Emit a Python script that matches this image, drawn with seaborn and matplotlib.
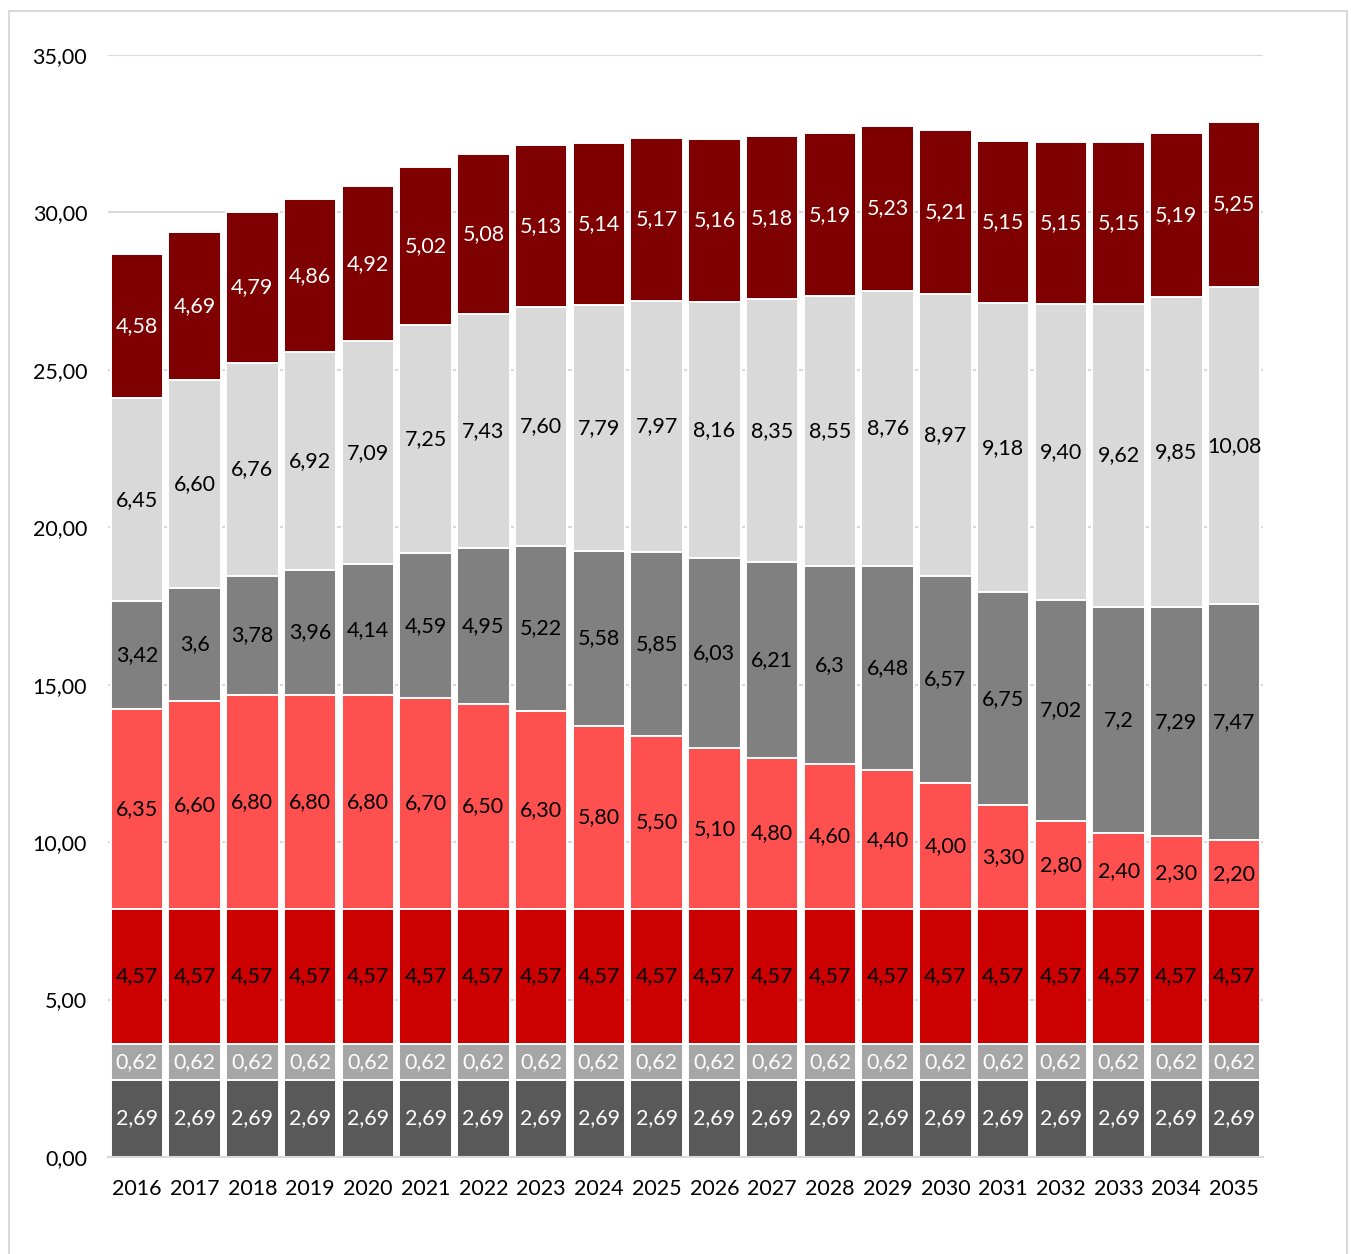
import matplotlib
matplotlib.use("Agg")
import matplotlib.pyplot as plt
from matplotlib.patches import Rectangle
import pandas as pd
import seaborn as sns

sns.set_theme(style="white")
plt.rcParams["font.family"] = ["Lato", "DejaVu Sans"]

years = [str(y) for y in range(2016, 2036)]

# bottom three segments: drawn heights and their printed labels
base_dark = [2.45] * 20
base_dark_lbl = ["2,69"] * 20
base_light = [1.14] * 20
base_light_lbl = ["0,62"] * 20
base_red = [4.29] * 20
base_red_lbl = ["4,57"] * 20

pink = [6.35, 6.60, 6.80, 6.80, 6.80, 6.70, 6.50, 6.30, 5.80, 5.50,
        5.10, 4.80, 4.60, 4.40, 4.00, 3.30, 2.80, 2.40, 2.30, 2.20]
gray = [3.42, 3.6, 3.78, 3.96, 4.14, 4.59, 4.95, 5.22, 5.58, 5.85,
        6.03, 6.21, 6.3, 6.48, 6.57, 6.75, 7.02, 7.2, 7.29, 7.47]
light = [6.45, 6.60, 6.76, 6.92, 7.09, 7.25, 7.43, 7.60, 7.79, 7.97,
         8.16, 8.35, 8.55, 8.76, 8.97, 9.18, 9.40, 9.62, 9.85, 10.08]
darkred = [4.58, 4.69, 4.79, 4.86, 4.92, 5.02, 5.08, 5.13, 5.14, 5.17,
           5.16, 5.18, 5.19, 5.23, 5.21, 5.15, 5.15, 5.15, 5.19, 5.25]


def fmt2(v):
    return f"{v:.2f}".replace(".", ",")


layers = [
    ("dark", base_dark, base_dark_lbl, "#595959", "white"),
    ("light", base_light, base_light_lbl, "#A6A6A6", "white"),
    ("red", base_red, base_red_lbl, "#CC0000", "black"),
    ("pink", pink, [fmt2(v) for v in pink], "#FF5050", "black"),
    ("gray", gray, [str(v).replace(".", ",") for v in gray], "#808080", "black"),
    ("lightgray", light, [fmt2(v) for v in light], "#D9D9D9", "black"),
    ("darkred", darkred, [fmt2(v) for v in darkred], "#7F0000", "white"),
]

df = pd.DataFrame({"year": years})
prev = [0.0] * 20
for name, vals, _, _, _ in layers:
    df[name + "_bot"] = prev
    prev = [p + v for p, v in zip(prev, vals)]
    df[name + "_top"] = prev

fig = plt.figure(figsize=(13.51, 12.54), dpi=100)
ax = fig.add_axes([108 / 1351, 97 / 1254, 1155 / 1351, 1102 / 1254])

# stacked bars: draw the cumulative totals from the top layer down
for name, vals, labels, color, tcolor in reversed(layers):
    sns.barplot(data=df, x="year", y=name + "_top", color=color, saturation=1,
                width=0.91, edgecolor="white", linewidth=1.4, ax=ax, zorder=2)

for name, vals, labels, color, tcolor in layers:
    for i, (b, v, lab) in enumerate(zip(df[name + "_bot"], vals, labels)):
        ax.text(i, b + v / 2, lab, ha="center", va="center", color=tcolor,
                fontsize=15.5, zorder=5)

ax.set_xlim(-0.5, 19.5)
ax.set_ylim(0, 35)
ax.set_yticks(range(0, 36, 5))
ax.set_yticklabels([f"{t:.2f}".replace(".", ",") for t in range(0, 36, 5)])
ax.yaxis.grid(True, color="#D9D9D9", linewidth=1.5, zorder=0)
ax.set_axisbelow(True)
ax.set_xlabel("")
ax.set_ylabel("")
for s in ["top", "right", "left"]:
    ax.spines[s].set_visible(False)
ax.spines["bottom"].set_color("#D9D9D9")
ax.spines["bottom"].set_linewidth(1.5)
ax.tick_params(axis="both", length=0, labelsize=15.5, colors="black")
ax.tick_params(axis="y", pad=15)
ax.tick_params(axis="x", pad=16)

fig.patches.append(Rectangle((9 / 1351, -0.01), 1338 / 1351, 1.0 - 11 / 1254 + 0.01,
                             transform=fig.transFigure, fill=False,
                             edgecolor="#D9D9D9", linewidth=1.5))

fig.savefig("out.png", dpi=100, facecolor="white")
